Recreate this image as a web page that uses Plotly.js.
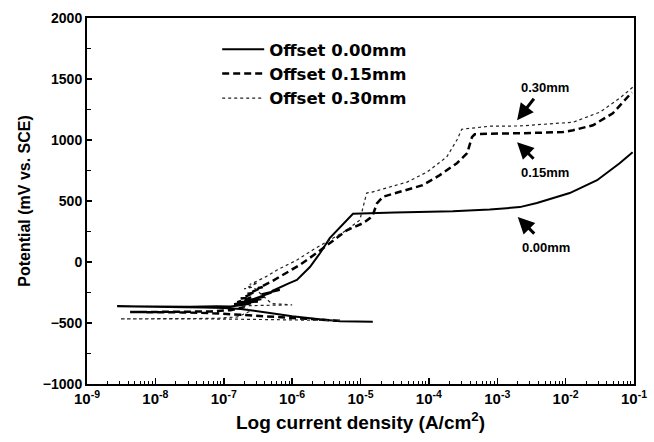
<!DOCTYPE html>
<html>
<head>
<meta charset="utf-8">
<script src="https://cdn.plot.ly/plotly-3.0.1.min.js"></script>
<style>html,body{margin:0;padding:0;background:#fff;}#chart{width:654px;height:442px;}</style>
</head>
<body>
<div id="chart"></div>
<script>
// Series names
const seriesNames = ["Offset 0.00mm", "Offset 0.15mm", "Offset 0.30mm"];

// Offset 0.00 mm : log10 current density and potential (mV vs SCE)
const solidLogI = [-4.82, -5.3, -5.6, -6.0, -6.3, -6.62, -6.75, -7.0, -7.3, -7.8, -8.2, -8.56, -8.3, -7.9, -7.5, -7.1, -6.9, -6.75, -6.6, -6.85, -6.5, -6.8, -6.45, -6.7, -6.4, -6.55, -6.3, -6.45, -6.18, -6.3, -6.05, -5.93, -5.74, -5.59, -5.45, -5.30, -5.11, -4.5, -3.65, -3.11, -2.67, -2.42, -1.94, -1.54, -1.21, -1.02];
const solidE    = [-490, -485, -470, -445, -420, -393, -385, -378, -372, -368, -366, -363, -365, -367, -366, -362, -365, -355, -340, -345, -325, -330, -305, -318, -285, -300, -250, -265, -229, -240, -175, -147, -41, 74, 196, 286, 395, 405, 415, 430, 450, 483, 565, 670, 810, 900];

// Offset 0.15 mm
const dashLogI = [-5.3, -5.6, -6.0, -6.4, -6.8, -7.2, -7.6, -8.0, -8.37, -8.0, -7.6, -7.2, -6.9, -6.7, -6.8, -6.6, -6.75, -6.55, -6.65, -6.43, -6.5, -6.3, -6.13, -5.89, -5.64, -5.45, -5.20, -4.96, -4.86, -4.82, -4.76, -4.67, -4.32, -4.09, -3.84, -3.59, -3.44, -3.37, -3.33, -3.11, -2.67, -2.04, -1.89, -1.60, -1.31, -1.03];
const dashE    = [-482, -472, -458, -445, -430, -418, -413, -411, -410, -412, -408, -405, -395, -370, -330, -290, -300, -250, -262, -205, -215, -160, -106, -25, 74, 155, 260, 319, 360, 385, 480, 535, 590, 630, 712, 810, 892, 1023, 1047, 1052, 1055, 1065, 1080, 1121, 1219, 1391];

// Offset 0.30 mm
const dotLogI = [-5.3, -5.7, -6.1, -6.5, -6.9, -7.3, -7.8, -8.2, -8.52, -8.1, -7.6, -7.1, -6.8, -6.6, -6.75, -6.4, -6.0, -6.3, -6.57, -6.7, -6.5, -6.62, -6.38, -6.22, -5.93, -5.70, -5.45, -5.20, -5.01, -4.96, -4.91, -4.83, -4.32, -4.03, -3.74, -3.59, -3.52, -3.11, -2.67, -1.89, -1.50, -1.21, -1.02];
const dotE    = [-480, -476, -472, -470, -468, -467, -466, -466, -466, -465, -464, -462, -450, -400, -360, -355, -352, -340, -205, -220, -170, -185, -120, -65, 16, 98, 180, 262, 344, 466, 565, 573, 655, 736, 860, 1000, 1088, 1113, 1115, 1146, 1228, 1342, 1432];

// Axis ticks
const xTickExp = [-9, -8, -7, -6, -5, -4, -3, -2, -1];
const xTickText = ["10<sup>-9</sup>", "10<sup>-8</sup>", "10<sup>-7</sup>", "10<sup>-6</sup>", "10<sup>-5</sup>", "10<sup>-4</sup>", "10<sup>-3</sup>", "10<sup>-2</sup>", "10<sup>-1</sup>"];
const yTickVals = [-1000, -500, 0, 500, 1000, 1500, 2000];

// Annotation labels (arrow tip positions)
const labelText = ["0.30mm", "0.15mm", "0.00mm"];
const labelLogI = [-2.71, -2.71, -2.70];
const labelE    = [1162, 982, 368];

const toI = a => a.map(v => Math.pow(10, v));
const FONT = "Liberation Sans, Arial, sans-serif";

const traces = [
  {x: toI(solidLogI), y: solidE, name: seriesNames[0], mode: "lines",
   line: {color: "#000", width: 2, dash: "solid"}},
  {x: toI(dashLogI), y: dashE, name: seriesNames[1], mode: "lines",
   line: {color: "#000", width: 2.5, dash: "7px,4px"}},
  {x: toI(dotLogI), y: dotE, name: seriesNames[2], mode: "lines",
   line: {color: "#222", width: 1.2, dash: "dot"}}
];

const annotations = [];
for (let i = 0; i < labelText.length; i++) {
  const up = i === 0;
  annotations.push({
    x: labelLogI[i], y: labelE[i], xref: "x", yref: "y",
    showarrow: true, arrowhead: 2, arrowsize: 1.1, arrowwidth: 3, arrowcolor: "#000",
    ax: 18, ay: up ? -23 : 18, text: ""
  });
  annotations.push({
    x: labelLogI[i], y: labelE[i], xref: "x", yref: "y",
    showarrow: false, text: labelText[i],
    xshift: 28, yshift: up ? 33 : -30,
    font: {family: FONT, size: 13, color: "#000", weight: "bold"}
  });
}

const layout = {
  width: 654, height: 442,
  margin: {l: 87, r: 20, t: 18, b: 58},
  paper_bgcolor: "#fff", plot_bgcolor: "#fff",
  font: {family: FONT, color: "#000"},
  showlegend: true,
  legend: {
    x: 0.238, y: 0.962, xanchor: "left", yanchor: "top",
    bgcolor: "rgba(0,0,0,0)", borderwidth: 0, itemwidth: 42,
    font: {family: "DejaVu Sans, Liberation Sans, sans-serif", size: 16.5, color: "#000", weight: "bold"},
    tracegroupgap: 0
  },
  xaxis: {
    type: "log", range: [-9, -1],
    tickvals: xTickExp.map(e => Math.pow(10, e)), ticktext: xTickText,
    tickfont: {family: FONT, size: 15, color: "#000", weight: "bold"},
    ticks: "inside", ticklen: 6, tickwidth: 1.5, tickcolor: "#000",
    minor: {ticks: "inside", ticklen: 3, tickwidth: 1, tickcolor: "#000", dtick: "D1", showgrid: false},
    showline: true, linecolor: "#000", linewidth: 2, mirror: true,
    showgrid: false, zeroline: false,
    title: {text: "Log current density (A/cm<sup>2</sup>)", standoff: 10,
            font: {family: FONT, size: 19, color: "#000", weight: "bold"}}
  },
  yaxis: {
    range: [-1000, 2000], tickvals: yTickVals,
    tickfont: {family: FONT, size: 14, color: "#000", weight: "bold"},
    ticks: "inside", ticklen: 5, tickwidth: 1.5, tickcolor: "#000",
    minor: {ticks: "inside", ticklen: 4, tickwidth: 1, tickcolor: "#000", dtick: 250, showgrid: false},
    showline: true, linecolor: "#000", linewidth: 2, mirror: true,
    showgrid: false, zeroline: false,
    title: {text: "Potential (mV vs. SCE)", standoff: 8,
            font: {family: FONT, size: 16, color: "#000", weight: "bold"}}
  },
  annotations: annotations
};

Plotly.newPlot("chart", traces, layout, {staticPlot: true, displayModeBar: false});
</script>
</body>
</html>
